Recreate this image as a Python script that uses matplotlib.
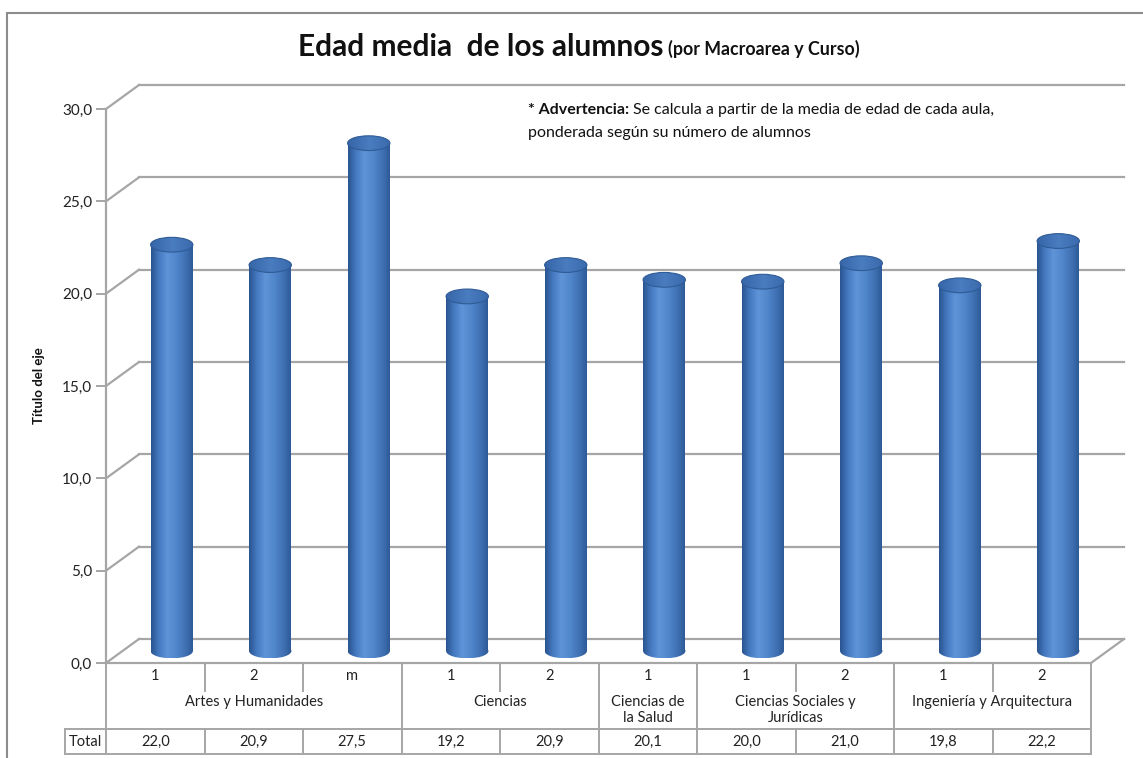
import numpy as np
import matplotlib
matplotlib.use('Agg')
import matplotlib.pyplot as plt
from matplotlib.patches import Ellipse, Rectangle, Polygon
from matplotlib.colors import LinearSegmentedColormap
import matplotlib.transforms as mtransforms

plt.rcParams['font.family'] = ['Lato', 'DejaVu Sans']

# data
grupos = ['Artes y Humanidades', 'Ciencias', 'Ciencias de\nla Salud',
          'Ciencias Sociales y\nJurídicas', 'Ingeniería y Arquitectura']
n_por_grupo = [3, 2, 1, 2, 2]
cursos = ['1', '2', 'm', '1', '2', '1', '1', '2', '1', '2']
edad = [22.0, 20.9, 27.5, 19.2, 20.9, 20.1, 20.0, 21.0, 19.8, 22.2]
yticks = [0, 5, 10, 15, 20, 25, 30]


def fmt(v):
    return f'{v:.1f}'.replace('.', ',')


W, H = 1143, 758
fig = plt.figure(figsize=(W / 100, H / 100), dpi=100)
fig.patch.set_facecolor('white')

# outer chart border
fig.add_artist(Rectangle((7 / W, -0.01), 1.02, 1 - 13 / H + 0.01,
                         transform=fig.transFigure, fill=False,
                         edgecolor='#8c8c8c', linewidth=1.5))

x0, x1, y0, y1 = 106, 1091, 663, 109
ax = fig.add_axes([x0 / W, 1 - y0 / H, (x1 - x0) / W, (y0 - y1) / H])
ax.set_facecolor('none')

n = len(edad)
grid_c = '#a6a6a6'
dx = 0.335          # depth offset in category units
dy = 1.3            # depth offset in value units

# back wall gridlines + diagonals
for v in yticks:
    ax.plot([-0.5 + dx, n - 0.5 + dx], [v + dy, v + dy], color=grid_c, lw=1.6,
            clip_on=False, zorder=1)
    ax.plot([-0.5, -0.5 + dx], [v, v + dy], color=grid_c, lw=1.6,
            clip_on=False, zorder=1)
# floor right side
ax.plot([n - 0.5, n - 0.5 + dx], [0, dy], color=grid_c, lw=1.6, clip_on=False, zorder=1)

# cylinders
cmap = LinearSegmentedColormap.from_list('cyl', [
    (0.0, '#2a5490'), (0.18, '#4479c0'), (0.38, '#5f94d8'),
    (0.6, '#5086cb'), (0.85, '#3c6cae'), (1.0, '#2b5792')])
cap_cmap = LinearSegmentedColormap.from_list('cap', [
    (0.0, '#3666a8'), (0.5, '#4a7cc0'), (1.0, '#3a6aac')])
grad = np.linspace(0, 1, 200).reshape(1, -1)
bw = 0.43
eh = 0.80
for i, v in enumerate(edad):
    cx = i + dx / 2
    base = dy / 2
    top = v + dy / 2
    body = Polygon([[cx - bw / 2, base], [cx - bw / 2, top],
                    [cx + bw / 2, top], [cx + bw / 2, base]],
                   closed=True, facecolor='none', edgecolor='none')
    ax.add_patch(body)
    bottom = Ellipse((cx, base), bw, eh, facecolor='none', edgecolor='none')
    ax.add_patch(bottom)
    im = ax.imshow(grad, cmap=cmap, aspect='auto', zorder=3,
                   extent=[cx - bw / 2, cx + bw / 2, base, top],
                   interpolation='bilinear')
    im.set_clip_path(body)
    im2 = ax.imshow(grad, cmap=cmap, aspect='auto', zorder=3,
                    extent=[cx - bw / 2, cx + bw / 2, base - eh / 2, base],
                    interpolation='bilinear')
    im2.set_clip_path(bottom)
    cap = Ellipse((cx, top), bw, eh, facecolor='none',
                  edgecolor='#2f5b96', linewidth=0.8, zorder=5)
    ax.add_patch(cap)
    im3 = ax.imshow(grad, cmap=cap_cmap, aspect='auto', zorder=4,
                    extent=[cx - bw / 2, cx + bw / 2, top - eh / 2, top + eh / 2],
                    interpolation='bilinear')
    im3.set_clip_path(cap)

ax.set_xlim(-0.5, n - 0.5)
ax.set_ylim(0, 30)
ax.set_yticks(yticks)
ax.set_yticklabels([fmt(v) for v in yticks])
ax.set_xticks([])
for s in ['top', 'right']:
    ax.spines[s].set_visible(False)
for s in ['left', 'bottom']:
    ax.spines[s].set_color(grid_c)
    ax.spines[s].set_linewidth(1.6)
    ax.spines[s].set_zorder(6)
ax.tick_params(axis='y', length=7, width=1.4, color=grid_c, labelsize=11,
               labelcolor='#222222', pad=3)
ax.set_ylabel('Título del eje', fontsize=9.5, fontweight='bold', color='#111111')
ax.yaxis.set_label_coords((45 - x0) / (x1 - x0), 0.5)

# category table below the axes
tr = mtransforms.blended_transform_factory(ax.transData, ax.transAxes)
hpx = y0 - y1


def ya(px):
    return (y0 - px) / hpx


txt_c = '#222222'
r1, r2, r3 = ya(691), ya(729), ya(754)
xl = -0.5 - (x0 - 65) / ((x1 - x0) / n)

bounds = np.cumsum([0] + n_por_grupo) - 0.5
for i in range(n + 1):
    b = i - 0.5
    if b in bounds:
        ax.plot([b, b], [0, r2], color=grid_c, lw=1.4, transform=tr, clip_on=False)
    else:
        ax.plot([b, b], [0, r1], color=grid_c, lw=1.4, transform=tr, clip_on=False)
    ax.plot([b, b], [r2, r3], color=grid_c, lw=1.4, transform=tr, clip_on=False)
ax.plot([xl, xl], [r2, r3], color=grid_c, lw=1.4, transform=tr, clip_on=False)
for yy in [r2, r3]:
    ax.plot([xl, n - 0.5], [yy, yy], color=grid_c, lw=1.4, transform=tr, clip_on=False)

for i, c in enumerate(cursos):
    ax.text(i, ya(676), c, ha='center', va='center', fontsize=10.5,
            color=txt_c, transform=tr)
    ax.text(i, ya(741.5), fmt(edad[i]), ha='center', va='center', fontsize=10.5,
            color=txt_c, transform=tr)
for g, a, b in zip(grupos, bounds[:-1], bounds[1:]):
    ax.text((a + b) / 2, ya(695), g, ha='center', va='top', fontsize=10.5,
            color=txt_c, transform=tr, linespacing=1.2)
ax.text((xl - 0.5) / 2, ya(741.5), 'Total', ha='center', va='center',
        fontsize=10.5, color=txt_c, transform=tr)

# title
fig.text(664 / W, 1 - 47 / H, 'Edad media  de los alumnos', ha='right',
         va='center', fontsize=21.5, fontweight='bold', color='#111111')
fig.text(668 / W, 1 - 49 / H, '(por Macroarea y Curso)', ha='left',
         va='center', fontsize=12.8, fontweight='bold', color='#111111')

# note
t1 = fig.text(528 / W, 1 - 110 / H, '* Advertencia:', ha='left', va='center',
              fontsize=11.5, fontweight='bold', color='#111111')
fig.canvas.draw()
bb = t1.get_window_extent()
fig.text((bb.x1 + 4) / W, 1 - 110 / H,
         'Se calcula a partir de la media de edad de cada aula,',
         ha='left', va='center', fontsize=11.5, color='#111111')
fig.text(528 / W, 1 - 133 / H, 'ponderada según su número de alumnos',
         ha='left', va='center', fontsize=11.5, color='#111111')

fig.savefig('out.png', dpi=100)
